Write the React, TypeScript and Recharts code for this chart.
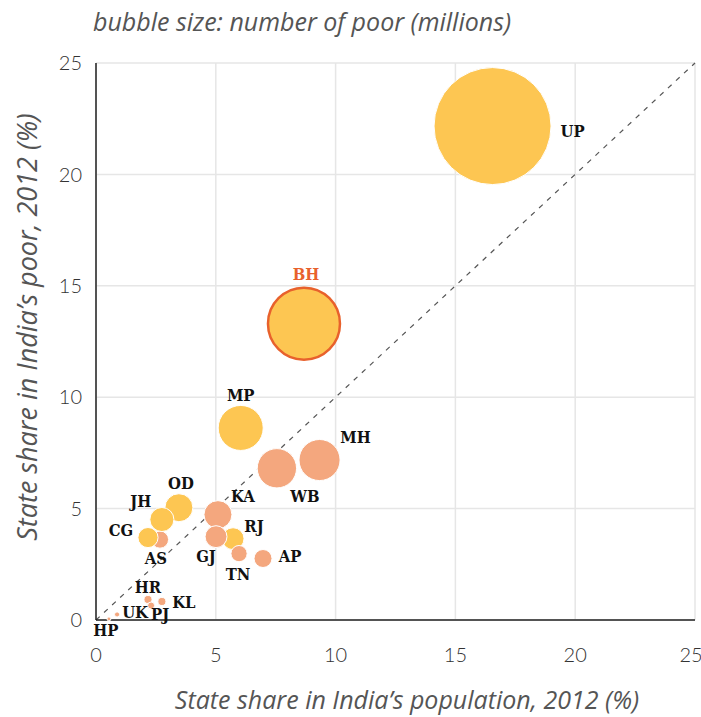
import React from 'react';
import { ScatterChart, Scatter, XAxis, YAxis, CartesianGrid, ReferenceLine, Label } from 'recharts';

// ---- data ----
const states = ['UP', 'BH', 'MP', 'MH', 'WB', 'OD', 'KA', 'RJ', 'AP', 'AS', 'JH', 'CG', 'GJ', 'TN', 'KL', 'HR', 'PJ', 'UK', 'HP'];
const popShare = [16.55, 8.68, 6.04, 9.33, 7.55, 3.46, 5.09, 5.72, 6.97, 2.67, 2.75, 2.17, 5.01, 5.97, 2.75, 2.17, 2.3, 0.88, 0.54];
const poorShare = [22.17, 13.3, 8.62, 7.18, 6.81, 5.04, 4.73, 3.65, 2.76, 3.61, 4.51, 3.7, 3.74, 2.98, 0.83, 0.92, 0.65, 0.25, 0.05];
const poorMillions = [59.8, 36.8, 23.0, 21.0, 20.1, 14.3, 14.3, 11.2, 9.2, 8.8, 12.3, 10.3, 11.2, 8.3, 4.1, 4.1, 3.6, 2.6, 2.0];
const groups = ['low', 'low', 'low', 'other', 'other', 'low', 'other', 'low', 'other', 'other', 'low', 'low', 'other', 'other', 'other', 'other', 'other', 'other', 'other'];
const axisTicks = [0, 5, 10, 15, 20, 25];

// ---- label placement (styling, in px relative to bubble centre) ----
const labelPlacement: Record<string, [number, number, string]> = {
  UP: [68, 5, 'start'], BH: [2, -49, 'middle'], MP: [0, -32, 'middle'], MH: [36, -23, 'middle'],
  WB: [28, 28, 'middle'], OD: [2, -24, 'middle'], JH: [-21, -18, 'middle'], CG: [-27, -7, 'middle'],
  AS: [-4, 19, 'middle'], KA: [25, -18, 'middle'], GJ: [-10, 20, 'middle'], RJ: [21, -12, 'middle'],
  TN: [-1, 21, 'middle'], AP: [27, -2, 'middle'], HR: [0, -12, 'middle'], KL: [22, 1, 'middle'],
  PJ: [9, 9, 'middle'], UK: [18, -2, 'middle'], HP: [-3, 12, 'middle'],
};

const YELLOW = '#FDC652';
const SALMON = '#F4A77E';
const BH_ORANGE = '#E8612C';
const MAX_R = 58.5;
const maxPoor = Math.max(...poorMillions);

const table = states.map((s, i) => ({
  state: s,
  x: popShare[i],
  y: poorShare[i],
  poor: poorMillions[i],
  group: groups[i],
}));

const Bubble = (props: any) => {
  const { cx, cy, payload } = props;
  if (cx == null || cy == null) return null;
  const r = (payload.poor / maxPoor) * MAX_R;
  const isBH = payload.state === 'BH';
  return (
    <circle
      cx={cx}
      cy={cy}
      r={r}
      fill={payload.group === 'low' ? YELLOW : SALMON}
      stroke={isBH ? BH_ORANGE : '#ffffff'}
      strokeWidth={isBH ? 2.5 : 1}
    />
  );
};

const BubbleLabel = (props: any) => {
  const { cx, cy, payload } = props;
  if (cx == null || cy == null) return null;
  const [dx, dy, anchor] = labelPlacement[payload.state];
  return (
    <text
      x={cx + dx}
      y={cy + dy}
      textAnchor={anchor as any}
      dominantBaseline="central"
      style={{
        fontFamily: "'DejaVu Serif Condensed', 'DejaVu Serif', serif",
        fontStretch: 'condensed',
        fontWeight: 700,
        fontSize: 16.5,
      }}
      fill={payload.state === 'BH' ? BH_ORANGE : '#111111'}
    >
      {payload.state}
    </text>
  );
};

const tickStyle = { fill: '#333333', fontFamily: 'Lato, sans-serif', fontWeight: 300, fontSize: 20 };
const axisTitleStyle = { fill: '#555555', fontFamily: "'Open Sans', sans-serif", fontStyle: 'italic' as const, fontWeight: 400, fontSize: 25 };

export default function App() {
  return (
    <div style={{ position: 'absolute', left: 0, top: 0, width: 701, height: 717, background: '#fff' }}>
      <div
        style={{
          position: 'absolute', left: 93, top: 4,
          fontFamily: "'Open Sans', sans-serif", fontStyle: 'italic', fontWeight: 400, fontSize: 25, color: '#555555',
          whiteSpace: 'nowrap',
        }}
      >
        bubble size: number of poor (millions)
      </div>
      <ScatterChart width={701} height={717} margin={{ top: 63, right: 6, bottom: 0, left: 0 }}>
        <CartesianGrid stroke="#e6e6e6" strokeWidth={1.5} />
        <XAxis
          type="number"
          dataKey="x"
          domain={[0, 25]}
          ticks={axisTicks}
          height={97}
          tickLine={false}
          tickMargin={22}
          axisLine={{ stroke: '#222', strokeWidth: 1.5 }}
          tick={tickStyle}
        >
          <Label
            content={({ viewBox }: any) => (
              <text
                x={407}
                y={699}
                textAnchor="middle"
                dominantBaseline="central"
                style={axisTitleStyle}
              >
                State share in India’s population, 2012 (%)
              </text>
            )}
          />
        </XAxis>
        <YAxis
          type="number"
          dataKey="y"
          domain={[0, 25]}
          ticks={axisTicks}
          width={96}
          tickLine={false}
          tickMargin={8}
          axisLine={{ stroke: '#222', strokeWidth: 1.5 }}
          tick={tickStyle}
        >
          <Label
            content={() => (
              <text
                x={26}
                y={327}
                transform="rotate(-90, 26, 327)"
                textAnchor="middle"
                dominantBaseline="central"
                style={{ ...axisTitleStyle, fontSize: 27 }}
              >
                State share in India’s poor, 2012 (%)
              </text>
            )}
          />
        </YAxis>
        <ReferenceLine
          segment={[{ x: 0, y: 0 }, { x: 25, y: 25 }]}
          stroke="#555555"
          strokeWidth={1.2}
          strokeDasharray="5 6"
        />
        <Scatter data={table} shape={Bubble} isAnimationActive={false} />
        <Scatter data={table} shape={BubbleLabel} isAnimationActive={false} />
      </ScatterChart>
    </div>
  );
}
